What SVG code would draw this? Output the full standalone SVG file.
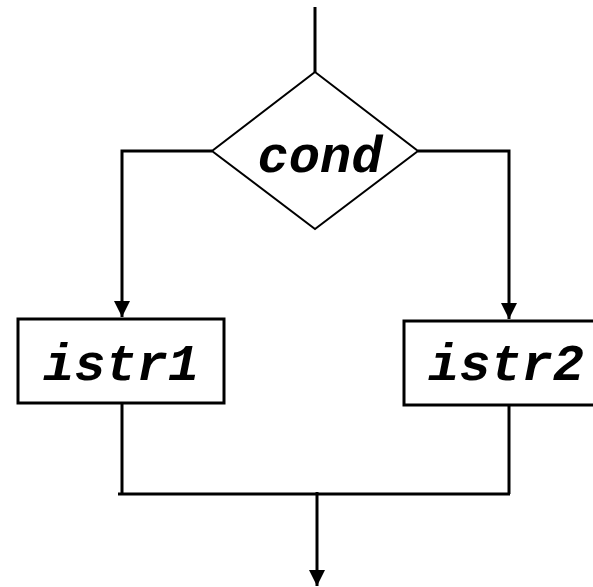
<svg xmlns="http://www.w3.org/2000/svg" width="593" height="587" viewBox="0 0 593 587">
  <style>
    .wire { fill: none; stroke: #000; stroke-width: 3; }
    .shape { fill: #fff; stroke: #000; stroke-width: 3; }
    .diamond { fill: #fff; stroke: #000; stroke-width: 2; }
    .label { font-family: "Liberation Mono", "Courier New", monospace; font-weight: bold; font-style: italic; font-size: 52px; fill: #000; text-anchor: middle; }
  </style>
  <defs>
    <marker id="arrow" markerUnits="userSpaceOnUse" markerWidth="16" markerHeight="16" refX="16" refY="8" orient="auto">
      <path d="M0,0 L16,8 L0,16 Z" fill="#000"/>
    </marker>
  </defs>

  <g id="connectors">
    <line class="wire" x1="315" y1="7" x2="315" y2="72"/>
    <polyline class="wire" points="212,151 122,151 122,317" marker-end="url(#arrow)"/>
    <polyline class="wire" points="418,151 509,151 509,319" marker-end="url(#arrow)"/>
    <polyline class="wire" points="122,403 122,494"/>
    <polyline class="wire" points="509,405 509,494"/>
    <line class="wire" x1="118" y1="494" x2="510" y2="494"/>
    <line class="wire" x1="317" y1="492" x2="317" y2="586" marker-end="url(#arrow)"/>
  </g>

  <g id="cond">
    <polygon class="diamond" points="315,72 418,151 315,229 212,151"/>
    <text class="label" x="320" y="172">cond</text>
  </g>

  <g id="istr1">
    <rect class="shape" x="18" y="319" width="206" height="84"/>
    <text class="label" x="121" y="380">istr1</text>
  </g>

  <g id="istr2">
    <rect class="shape" x="404" y="321" width="200" height="84"/>
    <text class="label" x="506" y="380">istr2</text>
  </g>
</svg>
